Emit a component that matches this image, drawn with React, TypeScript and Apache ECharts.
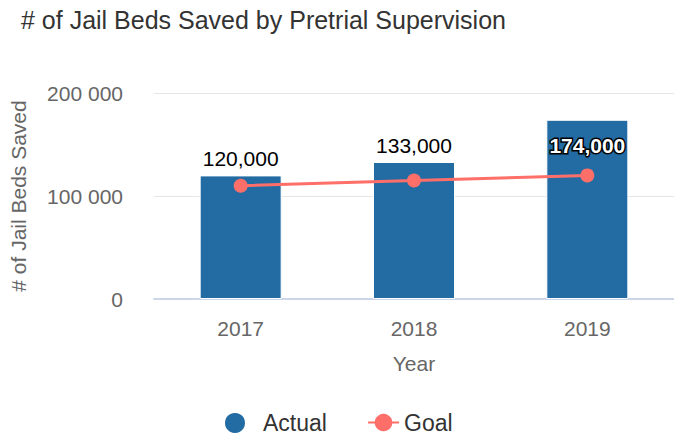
import React, { useEffect, useRef } from "react";
import * as echarts from "echarts";

const years = ["2017", "2018", "2019"];
const actual = [120000, 133000, 174000];
const goal = [110000, 115000, 120000];
const yTicks = [0, 100000, 200000];

const FONT = "'Liberation Sans', Arial, Helvetica, sans-serif";
const BAR = "#236ba3";
const GOAL = "#ff6f69";

export default function App() {
  const ref = useRef<HTMLDivElement>(null);
  useEffect(() => {
    if (!ref.current) return;
    const chart = echarts.init(ref.current, undefined, { renderer: "svg" });
    const barData = actual.map((v, i) => {
      const inside = i === actual.length - 1;
      return {
        value: v,
        label: inside
          ? {
              position: "insideTop",
              distance: 5,
              offset: [0, 10],
              color: "#ffffff",
              fontWeight: "bold",
              textBorderColor: "#000000",
              textBorderWidth: 3,
            }
          : {
              position: "top",
              distance: 6,
              color: "#000000",
              textBorderColor: "#ffffff",
              textBorderWidth: 2,
            },
      };
    });
    const legendText = { fontFamily: FONT, fontSize: 23, lineHeight: 22, color: "#333333" };
    chart.setOption({
      animation: false,
      backgroundColor: "#ffffff",
      textStyle: { fontFamily: FONT },
      title: {
        text: "# of Jail Beds Saved by Pretrial Supervision",
        left: 16,
        top: 2,
        textStyle: { fontFamily: FONT, fontSize: 25, fontWeight: "normal", color: "#333333" },
      },
      legend: [
        {
          top: 411,
          left: 223,
          padding: 0,
          itemWidth: 22,
          itemHeight: 22,
          textStyle: { ...legendText, padding: [0, 0, 0, 12] },
          data: [{ name: "Actual", icon: "circle" }],
        },
        {
          top: 411,
          left: 367,
          padding: 0,
          itemWidth: 31,
          itemHeight: 22,
          textStyle: legendText,
          data: [{ name: "Goal" }],
        },
      ],
      grid: { left: 154, top: 93, width: 522, bottom: 139, containLabel: false },
      xAxis: {
        type: "category",
        data: years,
        name: "Year",
        nameLocation: "middle",
        nameGap: 54,
        nameTextStyle: { fontFamily: FONT, fontSize: 21, color: "#666666" },
        axisLine: { show: true, lineStyle: { color: "#ccd6eb", width: 2 } },
        axisTick: { show: false },
        axisLabel: { margin: 19, fontFamily: FONT, fontSize: 21, color: "#666666" },
      },
      yAxis: {
        type: "value",
        min: yTicks[0],
        max: yTicks[yTicks.length - 1],
        interval: yTicks[1] - yTicks[0],
        name: "# of Jail Beds Saved",
        nameLocation: "middle",
        nameGap: 125,
        nameTextStyle: { fontFamily: FONT, fontSize: 21, color: "#666666" },
        axisLine: { show: false },
        axisTick: { show: false },
        splitLine: { lineStyle: { color: "#e6e6e6", width: 1 } },
        axisLabel: {
          margin: 31,
          padding: [10, 0, 0, 0],
          fontFamily: FONT,
          fontSize: 21,
          color: "#666666",
          formatter: (v: number) => String(v).replace(/\B(?=(\d{3})+(?!\d))/g, " "),
        },
      },
      series: [
        {
          name: "Actual",
          type: "bar",
          barWidth: 82,
          data: barData,
          itemStyle: { color: BAR, borderColor: "#ffffff", borderWidth: 1 },
          label: {
            show: true,
            fontFamily: FONT,
            fontSize: 21,
            formatter: (p: any) => Number(p.value).toLocaleString("en-US"),
          },
          z: 2,
        },
        {
          name: "Goal",
          type: "line",
          data: goal,
          symbol: "circle",
          symbolSize: 14,
          itemStyle: { color: GOAL },
          lineStyle: { color: GOAL, width: 3 },
          z: 3,
        },
      ],
    });
    return () => chart.dispose();
  }, []);
  return (
    <div
      ref={ref}
      style={{ position: "fixed", left: 0, top: 0, width: 674, height: 438 }}
    />
  );
}
